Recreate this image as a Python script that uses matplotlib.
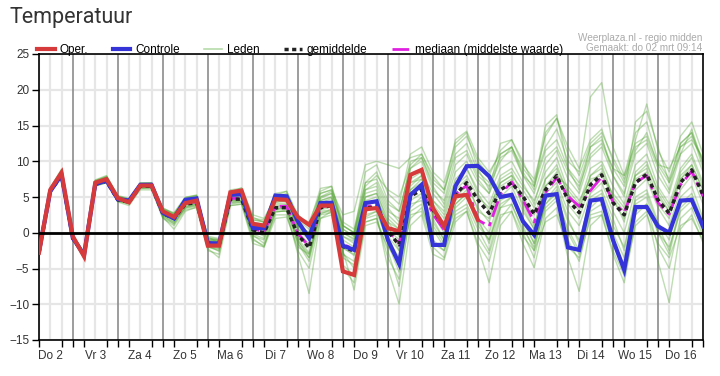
import numpy as np
import matplotlib
matplotlib.use('Agg')
import matplotlib.pyplot as plt
from matplotlib.lines import Line2D

plt.rcParams['font.family'] = ['Liberation Sans', 'DejaVu Sans']

# 6-hourly steps starting 2 Mar 06:00 (x in days since 2 Mar 00:00)
day_labels = ['Do 2', 'Vr 3', 'Za 4', 'Zo 5', 'Ma 6', 'Di 7', 'Wo 8', 'Do 9',
              'Vr 10', 'Za 11', 'Zo 12', 'Ma 13', 'Di 14', 'Wo 15', 'Do 16']

oper = [-2.8, 6.0, 8.4, -0.5, -3.3, 7.0, 7.5, 4.85, 4.25, 6.6,
        6.6, 3.0, 2.2, 4.15, 4.5, -1.8, -1.8, 5.65, 5.9, 1.25,
        1.0, 4.7, 4.6, 2.2, 1.1, 3.8, 3.8, -5.4, -5.9, 3.3,
        3.45, 0.65, 0.2, 8.1, 8.8, 3.45, 0.9, 5.1, 5.3, 1.8]

controle = [-2.6, 5.8, 8.1, -0.7, -3.1, 6.8, 7.3, 4.7, 4.5, 6.7,
            6.7, 2.8, 2.0, 4.6, 4.8, -1.45, -1.5, 5.3, 5.4, 0.65,
            0.65, 5.2, 5.1, 1.6, -0.75, 4.15, 4.2, -1.8, -2.4, 4.15,
            4.4, -1.0, -4.35, 5.3, 6.7, -1.7, -1.7, 6.5, 9.3, 9.35,
            7.9, 5.0, 5.3, 1.6, -0.3, 5.2, 5.4, -2.05, -2.4, 4.5,
            4.7, -1.0, -5.2, 3.6, 3.6, 0.9, 0.0, 4.5, 4.6, 0.9]

gemiddelde = [-2.8, 5.8, 8.0, -0.8, -3.0, 6.8, 7.2, 4.6, 4.3, 6.5,
              6.5, 2.7, 2.0, 4.0, 4.2, -1.5, -1.7, 4.7, 4.7, 0.4,
              0.0, 3.5, 3.5, -0.3, -2.1, 3.5, 3.8, -1.9, -2.6, 3.4,
              3.7, 0.2, -1.7, 5.1, 6.0, 3.2, 0.9, 5.3, 7.0, 4.6,
              2.7, 6.0, 7.0, 5.1, 2.6, 6.0, 8.0, 4.6, 2.8, 6.7,
              8.1, 4.2, 2.5, 7.0, 8.2, 4.6, 2.7, 7.0, 8.8, 5.3]

mediaan = [-2.8, 5.9, 8.1, -0.6, -3.1, 6.9, 7.3, 4.7, 4.3, 6.6,
           6.6, 2.8, 2.1, 4.1, 4.3, -1.4, -1.6, 4.8, 4.8, 0.6,
           0.1, 3.7, 3.7, -0.1, -1.9, 3.6, 3.9, -1.6, -2.3, 3.6,
           3.9, 0.4, -1.5, 5.3, 6.1, 2.6, 0.4, 5.4, 6.6, 1.8,
           0.9, 5.4, 7.1, 4.6, 1.5, 5.6, 7.7, 5.1, 3.7, 5.9,
           7.8, 4.3, 2.8, 7.0, 8.0, 4.2, 2.6, 6.7, 8.6, 5.1]

leden = [
    [-2.5, 6.3, 8.9, -0.2, -2.9, 7.4, 8.0, 5.2, 4.8, 6.9,
     6.9, 3.5, 2.6, 4.8, 5.0, -0.5, -0.8, 5.8, 6.0, 1.8,
     1.5, 5.5, 5.8, 2.5, 1.0, 6.2, 6.5, 1.5, 0.5, 7.0,
     7.5, 4.0, 3.0, 9.0, 10.0, 6.0, 4.5, 10.5, 11.5, 8.0,
     6.5, 10.0, 12.0, 9.0, 7.0, 12.0, 14.5, 10.0, 8.5, 19.0,
     21.0, 12.0, 8.0, 14.0, 15.5, 10.0, 7.5, 12.5, 14.0, 9.0],
    [-3.0, 5.5, 7.8, -1.0, -3.6, 6.5, 7.0, 4.3, 3.8, 6.0,
     6.0, 2.0, 1.0, 3.2, 3.5, -2.5, -3.0, 3.8, 4.0, -1.0,
     -1.8, 2.5, 2.5, -2.5, -5.0, 2.0, 2.5, -4.5, -6.0, 1.5,
     2.0, -3.5, -6.5, 2.5, 3.0, -2.0, -3.5, 3.0, 4.0, 0.5,
     -2.5, 3.5, 4.0, 0.0, -3.5, 3.0, 4.5, -1.0, -4.0, 2.5,
     3.0, -1.5, -4.5, 3.0, 4.0, -2.0, -5.0, 2.0, 3.5, -0.5],
    [-2.9, 5.6, 8.0, -0.9, -3.2, 6.6, 7.1, 4.4, 4.0, 6.2,
     6.3, 2.3, 1.5, 3.5, 3.8, -2.0, -2.5, 4.2, 4.5, -0.5,
     -1.0, 3.0, 3.0, -1.5, -3.5, 2.8, 3.0, -3.0, -4.0, 2.0,
     2.5, -5.0, -10.0, 1.0, 2.5, -3.0, -3.8, 1.5, 3.0, -2.0,
     -7.0, 1.0, 3.0, -1.5, -4.9, 2.0, 3.5, -3.5, -8.2, 1.0,
     2.5, -3.0, -7.0, 1.5, 3.0, -4.0, -9.8, 0.5, 2.5, -1.4],
    [-2.7, 6.1, 8.6, -0.4, -3.0, 7.2, 7.7, 5.0, 4.6, 6.8,
     6.8, 3.2, 2.4, 4.5, 4.7, -1.0, -1.2, 5.5, 5.8, 1.5,
     1.2, 5.0, 5.2, 1.8, 0.5, 5.5, 6.0, 0.5, -0.5, 6.0,
     6.5, 3.0, 2.0, 10.0, 10.5, 7.0, 5.5, 12.0, 13.5, 10.0,
     8.0, 11.5, 13.0, 9.5, 7.5, 13.5, 16.0, 12.0, 9.0, 13.0,
     14.5, 10.0, 7.0, 13.0, 18.0, 11.5, 8.5, 13.5, 15.5, 11.0],
    [-2.8, 5.9, 8.2, -0.7, -3.1, 6.9, 7.3, 4.6, 4.2, 6.4,
     6.5, 2.6, 1.8, 3.9, 4.1, -1.6, -2.0, 4.5, 4.6, 0.2,
     -0.3, 3.3, 3.4, -0.8, -2.8, 3.2, 3.6, -2.2, -3.0, 3.0,
     3.5, 0.5, -1.0, 5.5, 6.5, 2.5, 0.0, 5.0, 6.5, 3.5,
     1.5, 6.5, 7.5, 4.0, 1.0, 6.5, 8.5, 4.0, 2.0, 7.0,
     8.5, 4.5, 2.0, 7.5, 8.5, 4.0, 2.0, 7.5, 9.0, 5.0],
    [-2.8, 5.7, 7.9, -0.8, -3.3, 6.7, 7.2, 4.5, 4.1, 6.3,
     6.4, 2.2, 0.5, 3.0, 3.6, -1.8, -2.2, 4.0, 4.3, -0.3,
     -1.5, 2.8, 3.2, -1.0, -3.5, 3.0, 3.2, -3.5, -4.5, 2.2,
     3.0, -1.0, -3.5, 4.0, 4.5, 1.0, -1.5, 3.5, 5.0, 1.0,
     -1.0, 4.5, 5.5, 2.0, -1.5, 4.0, 6.0, 1.5, -1.0, 4.5,
     5.5, 1.0, -2.0, 5.0, 6.0, 1.5, -1.0, 5.0, 6.5, 2.0],
    [-2.6, 6.0, 8.5, -0.6, -2.9, 7.0, 7.6, 4.9, 4.5, 6.7,
     6.7, 3.0, 2.5, 4.6, 5.0, -0.8, -1.0, 5.3, 5.5, 1.8,
     1.6, 4.5, 4.5, 1.0, 0.0, 4.5, 5.0, 0.0, -1.0, 5.0,
     5.5, 2.0, 0.5, 7.5, 8.5, 5.5, 3.5, 8.5, 10.0, 7.0,
     5.5, 9.0, 10.0, 7.0, 4.0, 9.5, 11.5, 7.5, 5.5, 10.5,
     12.0, 8.0, 5.5, 11.0, 12.5, 8.0, 5.5, 11.0, 12.5, 8.5],
    [-3.0, 5.8, 8.0, -0.9, -3.4, 6.6, 7.0, 4.4, 4.2, 6.4,
     6.4, 2.5, 1.5, 3.6, 4.0, -1.8, -2.6, 4.2, 4.2, -0.8,
     -2.0, 2.0, 2.2, -2.0, -3.0, 2.5, 2.8, -2.5, -8.0, 1.0,
     1.5, -2.0, -4.0, 2.0, 3.5, -1.0, -2.5, 2.5, 3.5, -0.5,
     -3.0, 2.5, 3.0, -0.5, -2.5, 1.5, 2.5, -2.0, -3.5, 2.0,
     2.5, -2.5, -6.0, 1.0, 2.5, -1.5, -3.5, 1.0, 2.0, -1.0],
    [-2.7, 6.2, 8.7, -0.3, -2.8, 7.3, 7.8, 5.1, 4.7, 7.0,
     7.0, 3.4, 2.8, 5.0, 5.2, -0.6, -1.4, 6.0, 6.2, 2.5,
     2.0, 5.0, 5.5, 1.5, -0.5, 5.8, 6.5, 1.0, 0.0, 8.5,
     9.5, 5.5, 4.0, 11.0, 12.0, 8.5, 7.0, 12.5, 14.0, 9.0,
     6.0, 12.5, 13.0, 10.0, 6.5, 15.0, 16.5, 9.0, 6.0, 12.0,
     13.5, 8.0, 5.0, 15.5, 17.0, 12.0, 7.0, 11.0, 14.5, 9.5],
    [-2.9, 5.7, 7.8, -1.0, -3.2, 6.6, 7.0, 4.5, 4.2, 6.3,
     6.3, 2.5, 1.8, 3.8, 4.0, -1.5, -1.8, 4.5, 4.5, 0.5,
     0.0, 3.8, 4.0, 0.0, -1.5, 4.0, 4.2, -1.0, -2.0, 4.0,
     4.5, 1.5, -0.5, 6.0, 7.0, 3.0, 1.0, 4.5, 6.0, 2.0,
     0.0, 5.0, 6.5, 3.0, 0.5, 5.5, 7.0, 3.0, 1.0, 5.5,
     7.0, 3.0, 0.0, 6.0, 7.5, 3.5, 1.0, 6.0, 8.0, 4.0],
    [-2.8, 6.0, 8.3, -0.6, -3.1, 7.1, 7.5, 4.8, 4.4, 6.6,
     6.6, 2.9, 2.2, 4.3, 4.6, -1.2, -1.5, 5.0, 5.2, 1.0,
     0.5, 4.2, 4.5, 0.5, -1.0, 4.8, 5.5, 1.0, 0.0, 6.0,
     7.0, 3.5, 1.5, 7.0, 7.5, 4.5, 2.5, 7.0, 9.0, 6.0,
     4.0, 8.0, 9.0, 6.5, 4.5, 8.5, 10.5, 6.0, 4.0, 9.0,
     10.0, 6.5, 4.0, 9.5, 11.0, 6.5, 4.0, 9.0, 11.0, 7.0],
    [-2.9, 5.8, 8.1, -0.7, -3.2, 6.8, 7.3, 4.6, 4.3, 6.5,
     6.5, 2.4, 1.2, 3.6, 3.9, -2.2, -3.5, 3.8, 4.0, -1.5,
     -2.0, 3.0, 3.0, -3.0, -8.5, 2.0, 3.0, -5.0, -7.0, 1.5,
     2.0, -2.5, -7.5, 3.0, 4.0, -1.5, -2.5, 2.0, 3.0, -1.5,
     -4.0, 2.0, 4.0, 0.5, -2.0, 3.5, 5.0, 0.5, -2.5, 3.5,
     5.0, 0.0, -3.5, 4.0, 5.0, 0.0, -3.0, 3.5, 5.0, 0.5],
    [-2.6, 6.1, 8.6, -0.4, -3.0, 7.2, 7.8, 5.0, 4.6, 6.9,
     6.9, 3.3, 2.6, 4.8, 5.2, -0.9, -1.0, 5.5, 6.0, 2.0,
     1.8, 5.2, 5.8, 2.2, 1.5, 5.5, 6.0, 2.5, 3.0, 9.5,
     10.0, 9.5, 9.0, 10.5, 11.0, 8.0, 6.0, 13.0, 14.2, 10.5,
     8.5, 11.0, 12.0, 8.0, 6.5, 11.5, 13.0, 9.0, 7.0, 12.0,
     13.0, 9.0, 8.0, 12.5, 13.5, 9.5, 9.0, 12.0, 13.0, 10.5],
    [-2.8, 5.9, 8.3, -0.5, -3.1, 6.9, 7.4, 4.7, 4.4, 6.6,
     6.6, 2.8, 2.0, 4.2, 4.4, -1.3, -1.6, 4.9, 5.0, 0.8,
     0.3, 3.6, 3.9, -0.5, -2.0, 3.8, 4.4, -0.5, -1.5, 4.5,
     5.0, 1.0, -2.5, 6.5, 8.0, 2.0, -1.0, 6.0, 7.5, 3.0,
     2.0, 7.0, 8.0, 3.5, 0.5, 7.5, 9.5, 5.5, 3.0, 8.0,
     9.5, 5.0, 1.5, 8.5, 10.0, 5.5, 3.0, 8.5, 10.5, 6.5],
    [-2.7, 5.9, 8.4, -0.6, -3.0, 7.0, 7.4, 4.8, 4.5, 6.7,
     6.6, 3.1, 2.3, 4.4, 4.6, -1.1, -1.3, 5.2, 5.3, 1.2,
     0.8, 4.0, 4.2, 0.8, -0.5, 4.5, 5.0, -0.5, -1.2, 5.5,
     6.0, 2.5, 1.0, 6.0, 7.5, 4.5, 3.0, 7.5, 9.0, 5.5,
     3.0, 7.5, 8.5, 5.0, 2.5, 6.5, 8.0, 6.5, 4.5, 7.5,
     8.0, 5.5, 3.5, 8.0, 9.5, 6.0, 3.5, 8.0, 9.5, 6.0],
    [-2.9, 5.6, 7.9, -0.9, -3.3, 6.7, 7.1, 4.5, 4.1, 6.2,
     6.2, 2.1, 1.3, 3.4, 3.7, -2.0, -2.3, 4.4, 4.4, -0.2,
     -0.8, 3.2, 3.5, -1.2, -3.0, 3.4, 3.8, -2.0, -3.2, 3.0,
     3.5, -0.5, -2.5, 4.5, 5.5, 1.5, -1.0, 4.0, 5.5, 2.0,
     -1.5, 4.0, 5.0, 1.0, -2.5, 4.5, 6.5, 2.0, -1.5, 5.0,
     6.0, 2.0, -2.5, 4.5, 5.5, 1.0, -2.5, 4.0, 5.5, 1.5],
    [-2.6, 6.2, 8.8, -0.3, -2.8, 7.3, 7.9, 5.1, 4.7, 6.9,
     7.0, 3.3, 2.7, 4.9, 5.3, -0.7, -0.9, 5.7, 6.3, 2.2,
     1.4, 4.8, 5.0, 1.2, 0.0, 5.0, 5.5, 0.5, -0.5, 6.5,
     8.0, 6.0, 5.0, 9.5, 11.0, 7.5, 6.0, 11.0, 12.5, 8.5,
     7.0, 10.5, 11.5, 8.0, 5.5, 10.5, 12.0, 8.5, 6.5, 11.0,
     12.5, 9.0, 6.5, 11.5, 14.0, 9.5, 7.0, 12.5, 14.0, 10.0],
    [-2.8, 5.8, 8.1, -0.6, -3.1, 6.9, 7.4, 4.7, 4.4, 6.5,
     6.5, 2.7, 1.9, 4.0, 4.2, -1.5, -2.0, 4.6, 4.8, 0.3,
     -0.5, 3.4, 3.6, -1.5, -4.0, 2.6, 3.3, -2.8, -5.0, 2.5,
     3.0, -1.5, -5.5, 3.5, 5.0, 0.5, -2.0, 4.0, 5.5, 1.5,
     -1.0, 3.5, 5.0, 1.5, -1.5, 4.0, 5.5, 0.0, -3.0, 3.0,
     4.0, -1.0, -5.0, 2.5, 4.0, 0.0, -2.0, 3.0, 4.5, 0.0],
    [-2.8, 6.0, 8.5, -0.5, -3.2, 7.0, 7.5, 4.8, 4.4, 6.6,
     6.6, 2.9, 2.1, 4.3, 4.5, -1.2, -1.3, 5.0, 5.1, 0.8,
     0.5, 4.3, 4.6, 0.5, -0.5, 4.2, 4.8, 0.0, -0.8, 5.0,
     5.5, 1.5, 0.5, 7.0, 8.0, 4.0, 2.0, 6.5, 8.0, 5.0,
     3.5, 7.0, 8.0, 6.0, 3.5, 7.5, 9.0, 5.5, 3.5, 8.0,
     9.0, 5.0, 3.0, 8.0, 9.0, 5.0, 3.0, 7.5, 9.5, 6.0],
    [-2.7, 6.1, 8.6, -0.4, -3.0, 7.1, 7.7, 5.0, 4.6, 6.8,
     6.8, 3.1, 2.4, 4.5, 4.8, -1.0, -1.1, 5.2, 5.6, 1.4,
     1.0, 4.5, 4.8, 1.0, 0.0, 5.0, 5.8, 1.0, 0.0, 7.0,
     8.5, 4.5, 3.0, 9.0, 10.5, 6.5, 4.0, 9.5, 11.0, 7.5,
     5.5, 11.0, 12.0, 8.5, 6.0, 14.0, 16.0, 11.0, 8.0, 12.5,
     14.0, 10.5, 7.5, 12.0, 13.0, 9.0, 6.0, 12.0, 13.5, 10.0],
]

t = 0.25 + 0.25 * np.arange(len(controle))
t_oper = t[:len(oper)]

fig = plt.figure(figsize=(7.2, 3.76), dpi=100)
ax = fig.add_axes([39 / 720, 36 / 376, 664 / 720, 286 / 376])

# grid
for k in np.arange(0.25, 15.0, 0.25):
    if abs(k - round(k)) < 1e-6:
        ax.axvline(k, color='#8c8c8c', lw=1.2, zorder=1)
    else:
        ax.axvline(k, color='#e6e6e6', lw=1.6, zorder=0)
for yv in range(-15, 26, 5):
    ax.axhline(yv, color='#e6e6e6', lw=1.6, zorder=0)
ax.axhline(0, color='black', lw=2, zorder=6)

for m in leden:
    ax.plot(t, m, color='#4ca22a', lw=1.0, alpha=0.36, zorder=2)

ax.plot(t, mediaan, color='#e020e0', lw=2, dashes=(6, 2, 1.5, 2), zorder=3)
ax.plot(t, gemiddelde, color='#222222', lw=2.5, dashes=(1.2, 1.0), zorder=4)
ax.plot(t, controle, color='#3434d8', lw=3, zorder=5, solid_joinstyle='miter')
ax.plot(t_oper, oper, color='#d63a3a', lw=3, zorder=5, solid_joinstyle='miter')

ax.set_xlim(0.25, 15.0)
ax.set_ylim(-15, 25)
ax.set_yticks(range(-15, 26, 5))
ax.set_xticks(np.arange(0.5, 15, 1.0))
ax.set_xticklabels(day_labels)
ax.set_xticks(np.arange(0.25, 15.01, 0.25), minor=True)
ax.tick_params(axis='x', which='major', length=0, pad=7, labelsize=8.5, labelcolor='#333333')
ax.tick_params(axis='x', which='minor', length=5, width=1, color='black', direction='out')
ax.tick_params(axis='y', length=5, width=1, pad=2, labelsize=8.5, labelcolor='#333333')
for s in ax.spines.values():
    s.set_color('black')
    s.set_linewidth(1.2)

handles = [
    Line2D([], [], color='#d63a3a', lw=3),
    Line2D([], [], color='#3434d8', lw=3),
    Line2D([], [], color='#b8dcaa', lw=1.2),
    Line2D([], [], color='#222222', lw=2.5, dashes=(1.2, 1.0)),
    Line2D([], [], color='#e020e0', lw=2, dashes=(6, 2, 1.5, 2)),
]
labels = ['Oper.', 'Controle', 'Leden', 'gemiddelde', 'mediaan (middelste waarde)']
ax.legend(handles, labels, loc='lower left', bbox_to_anchor=(-0.005, 0.99), ncol=5,
          frameon=False, fontsize=8.5, handlelength=1.5, handletextpad=0.4,
          columnspacing=2.1, borderaxespad=0, borderpad=0.1)

fig.text(10 / 720, 1 - 18 / 376, 'Temperatuur', fontsize=15.5, color='#333333',
         family=['Roboto', 'DejaVu Sans'], va='center', ha='left')
fig.text(702 / 720, 1 - 38 / 376, 'Weerplaza.nl - regio midden', fontsize=7.2,
         color='#aaaaaa', ha='right', va='center')
fig.text(702 / 720, 1 - 48 / 376, 'Gemaakt: do 02 mrt 09:14', fontsize=7.2,
         color='#aaaaaa', ha='right', va='center')

fig.savefig('out.png', dpi=100)
